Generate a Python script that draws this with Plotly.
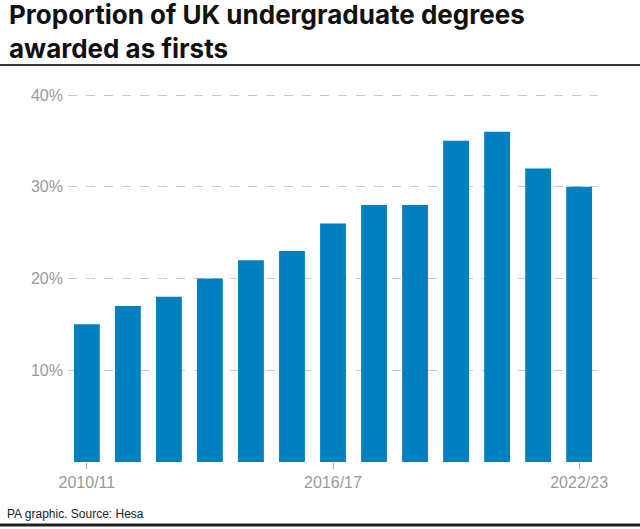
import plotly.graph_objects as go

years = ["2010/11", "2011/12", "2012/13", "2013/14", "2014/15", "2015/16", "2016/17",
         "2017/18", "2018/19", "2019/20", "2020/21", "2021/22", "2022/23"]
firsts_pct = [15, 17, 18, 20, 22, 23, 26, 28, 28, 35, 36, 32, 30]
x_tick_labels = ["2010/11", "2016/17", "2022/23"]
y_ticks = [10, 20, 30, 40]
y_tick_text = ["10%", "20%", "30%", "40%"]
title_text = "Proportion of UK undergraduate degrees<br>awarded as firsts"
source_text = "PA graphic. Source: Hesa"

W, H = 640, 529
Y_MAX = 40.5
y_bottom_px, y_top_px = 462, 462 - (462 - 95) * Y_MAX / 40

fig = go.Figure()
fig.add_trace(go.Bar(x=years, y=firsts_pct, marker=dict(color="#0080bf", line=dict(width=0)),
                     hoverinfo="x+y"))

title_font = dict(family="Inter, Roboto, Liberation Sans, Arial, sans-serif", size=26, color="#111", weight=700)

fig.update_layout(
    width=W, height=H,
    margin=dict(l=0, r=0, t=0, b=0, autoexpand=False),
    paper_bgcolor="white", plot_bgcolor="white",
    bargap=0.37, showlegend=False,
    font=dict(family="Liberation Sans, Arial, sans-serif", color="#999"),
    xaxis=dict(type="category", range=[-0.46, 12.46], domain=[68 / W, 598 / W],
               tickvals=x_tick_labels, ticktext=x_tick_labels, automargin=False,
               ticks="outside", ticklen=6, tickcolor="#aaa", tickwidth=1, showgrid=False,
               zeroline=False, showline=False, tickfont=dict(size=16, color="#999")),
    yaxis=dict(range=[0, Y_MAX], domain=[(H - y_bottom_px) / H, (H - y_top_px) / H],
               tickvals=y_ticks, ticktext=y_tick_text, automargin=False, showgrid=True,
               gridcolor="#c8c8c8", griddash="dash", gridwidth=1, zeroline=False,
               showline=False, ticks="", ticklabelstandoff=4, tickfont=dict(size=16, color="#999")),
    annotations=[
        dict(text=title_text, x=7 / W, y=1 - 31 / H,
             xref="paper", yref="paper", xanchor="left", yanchor="middle", showarrow=False,
             align="left", font=title_font),
        dict(text=source_text, x=5 / W, y=(H - 514) / H, xref="paper", yref="paper",
             xanchor="left", yanchor="middle", showarrow=False,
             font=dict(family="Liberation Sans, Arial, sans-serif", size=12, color="#222")),
    ],
    shapes=[
        dict(type="line", xref="paper", yref="paper", x0=0, x1=1,
             y0=(H - 65) / H, y1=(H - 65) / H, line=dict(color="#333", width=2)),
        dict(type="line", xref="paper", yref="paper", x0=0, x1=1,
             y0=(H - 525) / H, y1=(H - 525) / H, line=dict(color="#222", width=3)),
    ],
)

fig.write_html("out.html", config={"displayModeBar": False},
               post_script="document.body.style.margin='0';")
